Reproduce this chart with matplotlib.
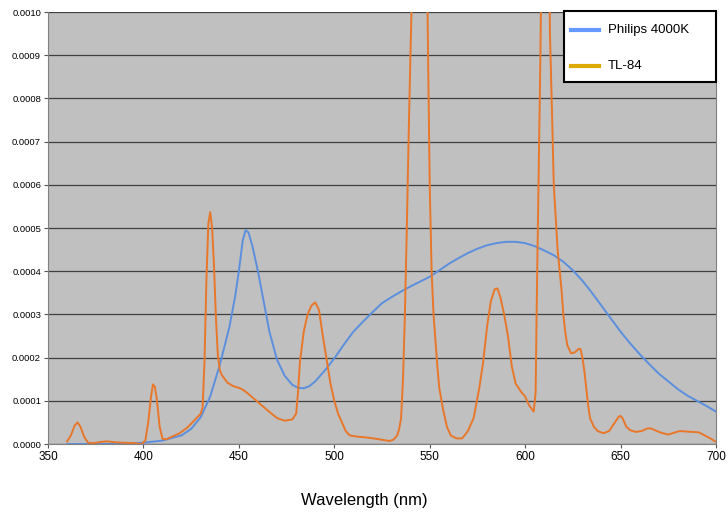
import numpy as np
import matplotlib
matplotlib.use("Agg")
import matplotlib.pyplot as plt
from matplotlib.lines import Line2D
from matplotlib.patches import Rectangle

plt.rcParams['font.family'] = ['Liberation Sans', 'DejaVu Sans']

# Philips 4000K spectrum
philips_wl = [360, 370, 380, 390, 400, 410, 420, 425, 430, 435, 440, 445, 448,
              450, 452, 453.5, 455, 457, 460, 463, 466, 470, 474, 478, 481, 484,
              487, 490, 495, 500, 505, 510, 515, 520, 525, 530, 535, 540, 545,
              550, 555, 560, 565, 570, 575, 580, 585, 590, 595, 600, 605, 610,
              615, 620, 625, 630, 635, 640, 645, 650, 655, 660, 665, 670, 675,
              680, 685, 690, 695, 700]
philips_val = [0.0, 0.0, 0.0, 0.000001, 0.000003, 0.000008, 0.00002, 0.000035,
               0.000062, 0.00011, 0.000183, 0.00027, 0.00034, 0.0004, 0.00047,
               0.000495, 0.00049, 0.00046, 0.0004, 0.00033, 0.00026, 0.000195,
               0.000158, 0.000137, 0.00013, 0.000129, 0.000134, 0.000145,
               0.00017, 0.000198, 0.00023, 0.00026, 0.000283, 0.000305,
               0.000326, 0.00034, 0.000353, 0.000365, 0.000376, 0.000387,
               0.000402, 0.000417, 0.00043, 0.000442, 0.000452, 0.00046,
               0.000465, 0.000468, 0.000468, 0.000465, 0.000458, 0.000448,
               0.000437, 0.000422, 0.000402, 0.000378, 0.00035, 0.00032,
               0.00029, 0.00026, 0.000233, 0.000208, 0.000185, 0.000163,
               0.000145, 0.000127, 0.000112, 0.0001, 0.000088, 0.000075]

# TL-84 spectrum (the two big peaks go off the top of the chart)
tl84_wl = [360, 362, 364, 365.5, 367, 369, 371, 374, 378, 381, 385, 390, 395,
           399, 401, 402.5, 404, 405, 406, 407, 408.5, 410, 412, 415, 419, 423,
           427, 430, 431, 432, 433, 434, 435, 436, 437, 438, 439, 440, 441,
           444, 447, 450, 452, 455, 460, 465, 470, 474, 478, 480, 481, 482,
           484, 486, 488, 490, 492, 494, 496, 498, 500, 502, 504, 506, 508,
           512, 517, 522, 526, 529, 531, 533, 534, 535, 536, 537, 538, 539,
           540, 541, 543, 545, 546, 547, 548, 549, 550, 551, 552, 553, 554,
           555, 557, 559, 561, 564, 567, 570, 573, 576, 578, 580, 582, 584,
           585.5, 587, 589, 591, 593, 595, 598, 600, 602, 604.5, 605.5, 606,
           607, 608, 609, 610, 611, 612, 613, 614, 615, 617, 619, 620, 621,
           622, 624, 626, 628, 629, 630, 631, 632, 633, 634, 636, 638, 641,
           644, 647, 649, 650, 651, 653, 655, 658, 661, 664, 666, 669, 672,
           675, 678, 681, 684, 688, 691, 694, 697, 700]
tl84_val = [0.000006, 0.00002, 0.000043, 0.00005, 0.00004, 0.000016, 0.000003,
            0.000002, 0.000005, 0.000006, 0.000004, 0.000003, 0.000002, 0.0,
            0.000008, 0.00005, 0.00011, 0.000138, 0.000132, 0.000105, 0.00004,
            0.000012, 0.000011, 0.000017, 0.000025, 0.000038, 0.000056,
            0.00007, 0.000085, 0.00019, 0.00038, 0.00051, 0.000537, 0.0005,
            0.00041, 0.00029, 0.000205, 0.000172, 0.00016, 0.000142, 0.000134,
            0.00013, 0.000126, 0.000116, 0.000097, 0.000078, 0.00006,
            0.000054, 0.000057, 0.00007, 0.00012, 0.00019, 0.00026, 0.0003,
            0.00032, 0.000328, 0.00031, 0.00025, 0.000195, 0.00014, 0.0001,
            0.00007, 0.00005, 0.00003, 0.00002, 0.000017, 0.000015, 0.000012,
            0.000009, 0.000007, 0.00001, 0.00002, 0.000035, 0.00006, 0.00015,
            0.0003, 0.0005, 0.00072, 0.00092, 0.0011, 0.0016, 0.0021, 0.0022,
            0.0019, 0.0013, 0.00095, 0.0006, 0.0004, 0.0003, 0.00024, 0.00018,
            0.00013, 0.00008, 0.00004, 0.00002, 0.000013, 0.000013, 0.00003,
            0.00006, 0.00013, 0.00019, 0.00027, 0.00033, 0.000358, 0.00036,
            0.00034, 0.0003, 0.00025, 0.00018, 0.00014, 0.00012, 0.00011,
            0.00009, 0.000075, 0.00012, 0.0003, 0.0006, 0.0009, 0.0013, 0.0018,
            0.0021, 0.0014, 0.00095, 0.00078, 0.0006, 0.00045, 0.00036, 0.0003,
            0.00026, 0.00023, 0.00021, 0.000212, 0.00022, 0.00022, 0.0002,
            0.00017, 0.00013, 0.00009, 0.00006, 0.00004, 0.00003, 0.000025,
            0.00003, 0.00005, 0.000063, 0.000065, 0.00006, 0.00004, 0.000032,
            0.000028, 0.00003, 0.000036, 0.000036, 0.00003, 0.000025, 0.000022,
            0.000026, 0.00003, 0.000029, 0.000028, 0.000027, 0.00002,
            0.000013, 0.000005]

series_names = ["Philips 4000K", "TL-84"]
line_colors = ["#5b8fde", "#e8772a"]
legend_colors = ["#6699ff", "#dda800"]
x_ticks = [350, 400, 450, 500, 550, 600, 650, 700]
y_ticks = np.arange(0, 0.00101, 0.0001)

W, H = 728, 512
fig = plt.figure(figsize=(W / 100, H / 100), dpi=100)
ax = fig.add_axes([48 / W, 1 - 444 / H, (716 - 48) / W, (444 - 12) / H])
ax.set_facecolor("#c0c0c0")

ax.plot(philips_wl, philips_val, color=line_colors[0], lw=1.4,
        solid_joinstyle="round")
ax.plot(tl84_wl, tl84_val, color=line_colors[1], lw=1.4,
        solid_joinstyle="round")

ax.set_xlim(350, 700)
ax.set_ylim(0, 0.001)
ax.set_xticks(x_ticks)
ax.set_xticklabels([str(t) for t in x_ticks], fontsize=8.5)
ax.set_yticks(y_ticks)
ax.set_yticklabels(["%.4f" % v for v in y_ticks], fontsize=6.8)
ax.tick_params(axis="both", length=3, width=0.8, color="#555555", pad=2)
ax.grid(axis="y", color="#404040", lw=0.9)
ax.set_axisbelow(True)
for side in ["left", "bottom", "right"]:
    ax.spines[side].set_color("#808080")
ax.spines["top"].set_visible(False)

fig.text(364 / W, 1 - 500 / H, "Wavelength (nm)", fontsize=12,
         ha="center", va="center")

# legend box, drawn by hand so it sits where the original does
def fx(px):
    return px / W

def fy(py):
    return 1 - py / H

fig.patches.append(Rectangle((fx(564), fy(82)), fx(716) - fx(564), fy(11) - fy(82),
                             transform=fig.transFigure, facecolor="white",
                             edgecolor="black", lw=1.5, zorder=5))
for i, name in enumerate(series_names):
    yy = 30 + i * 36
    fig.lines.append(Line2D([fx(571), fx(599)], [fy(yy), fy(yy)],
                            transform=fig.transFigure, color=legend_colors[i],
                            lw=3, zorder=6))
    fig.text(fx(608), fy(yy), name, fontsize=9.5, va="center", ha="left",
             zorder=6)

fig.savefig("out.png", dpi=100)
